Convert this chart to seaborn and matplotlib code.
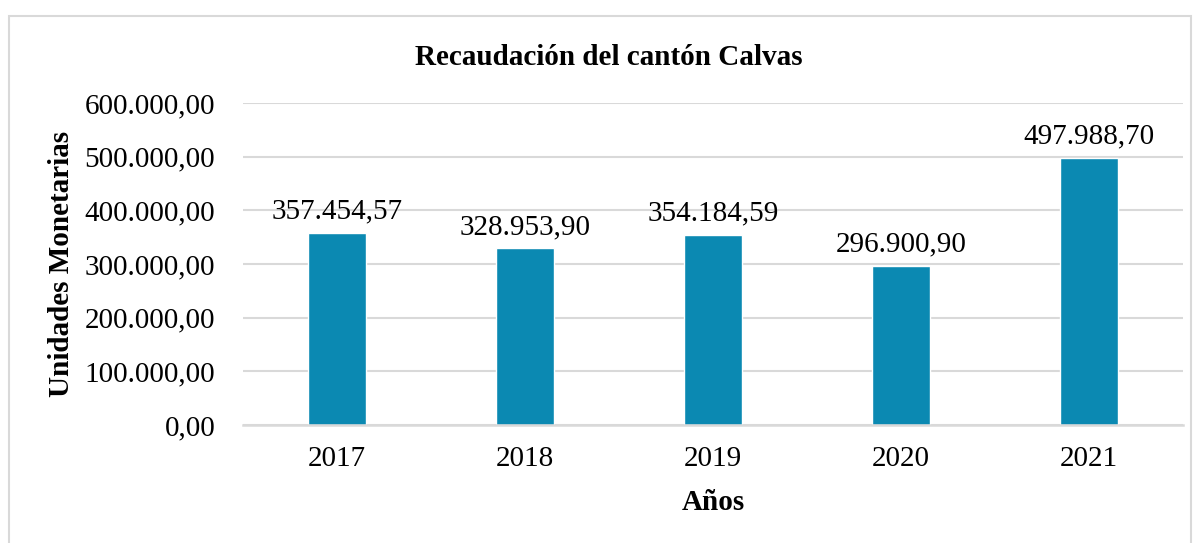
import matplotlib
matplotlib.use("Agg")
import matplotlib.pyplot as plt
from matplotlib.patches import Rectangle
import seaborn as sns
import pandas as pd

years = ["2017", "2018", "2019", "2020", "2021"]
recaudacion = [357454.57, 328953.90, 354184.59, 296900.90, 497988.70]
y_ticks = [0, 100000, 200000, 300000, 400000, 500000, 600000]


def fmt_es(v):
    # 357454.57 -> 357.454,57
    s = f"{v:,.2f}"
    return s.replace(",", "X").replace(".", ",").replace("X", ".")


df = pd.DataFrame({"year": years, "value": recaudacion})

sns.set_theme(style="white")
plt.rcParams["font.family"] = ["Liberation Serif", "DejaVu Serif"]
plt.rcParams.update({"text.color": "black", "axes.labelcolor": "black",
                     "xtick.color": "black", "ytick.color": "black"})

fig = plt.figure(figsize=(11.98, 5.43), dpi=100)
ax = fig.add_axes([0.2028, 0.2173, 0.7847, 0.5930])

sns.barplot(data=df, x="year", y="value", color="#0B89B2", saturation=1,
            width=0.31, ax=ax)

ax.set_ylim(0, 600000)
ax.set_yticks(y_ticks)
ax.set_yticklabels([fmt_es(t) for t in y_ticks], fontsize=21)
ax.tick_params(axis="x", labelsize=21, length=0, pad=15)
ax.tick_params(axis="y", length=0, pad=20)
ax.yaxis.grid(True, color="#D9D9D9", linewidth=1.5)
ax.set_axisbelow(True)
for side in ["top", "right", "left"]:
    ax.spines[side].set_visible(False)
ax.spines["bottom"].set_color("#D9D9D9")
ax.spines["bottom"].set_linewidth(1.8)

for i, v in enumerate(recaudacion):
    ax.annotate(fmt_es(v), (i, v), xytext=(0, 6), textcoords="offset points",
                ha="center", va="bottom", fontsize=21, color="black")

ax.set_xlabel("Años", fontsize=21, fontweight="bold", labelpad=12)
ax.set_ylabel("Unidades Monetarias", fontsize=21, fontweight="bold")
ax.yaxis.set_label_coords(-0.179, 0.5)
fig.text(0.5085, 0.895, "Recaudación del cantón Calvas", ha="center", va="center",
         fontsize=21, fontweight="bold")

# chart frame
fig.patches.append(Rectangle((9 / 1198, -0.05), 1182 / 1198, 1.05 - 16 / 543,
                             transform=fig.transFigure, fill=False,
                             edgecolor="#D9D9D9", linewidth=1.5))

fig.savefig("out.png", dpi=100)
